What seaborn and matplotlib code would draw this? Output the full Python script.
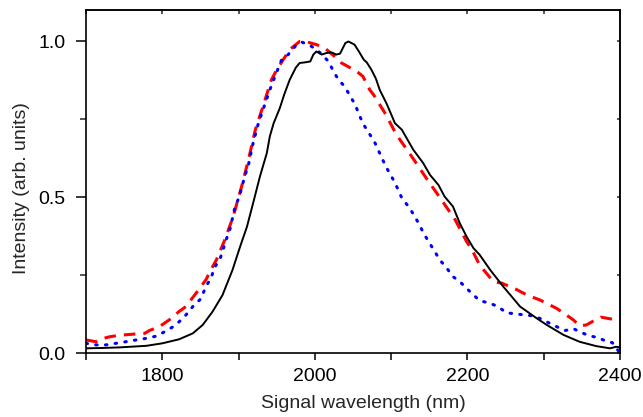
import numpy as np
import pandas as pd
import matplotlib
matplotlib.use("Agg")
import matplotlib.pyplot as plt
from matplotlib.ticker import MultipleLocator
import seaborn as sns

# Solid black spectrum
wl_black = [1700, 1720, 1744, 1779, 1800, 1822, 1840, 1853, 1866, 1879, 1892, 1902, 1911, 1919,
            1928, 1937, 1941, 1946, 1954, 1960, 1967, 1975, 1980, 1987, 1994, 1998, 2002, 2009,
            2015, 2022, 2028, 2033, 2040, 2044, 2052, 2059, 2064, 2068, 2074, 2080, 2085, 2094,
            2105, 2114, 2129, 2142, 2151, 2162, 2170, 2181, 2190, 2199, 2208, 2216, 2230, 2247,
            2269, 2291, 2304, 2326, 2347, 2369, 2387, 2395, 2400]
int_black = [0.015, 0.016, 0.018, 0.023, 0.031, 0.044, 0.063, 0.09, 0.133, 0.186, 0.266, 0.341,
             0.405, 0.48, 0.566, 0.641, 0.695, 0.737, 0.785, 0.83, 0.876, 0.915, 0.93, 0.932,
             0.935, 0.957, 0.967, 0.957, 0.962, 0.964, 0.957, 0.96, 0.994, 0.999, 0.989, 0.962,
             0.941, 0.932, 0.909, 0.88, 0.844, 0.80, 0.737, 0.716, 0.652, 0.609, 0.571, 0.539,
             0.502, 0.47, 0.416, 0.373, 0.336, 0.315, 0.266, 0.213, 0.149, 0.111, 0.09, 0.058,
             0.036, 0.022, 0.015, 0.02, 0.018]

# Dashed red spectrum
wl_red = [1700, 1713, 1720, 1731, 1744, 1765, 1777, 1783, 1796, 1809, 1822, 1831, 1844, 1857,
          1866, 1871, 1882, 1893, 1904, 1913, 1922, 1932, 1943, 1950, 1967, 1980, 1989, 2002,
          2013, 2026, 2035, 2055, 2063, 2072, 2077, 2092, 2107, 2127, 2146, 2166, 2184, 2199,
          2206, 2216, 2234, 2245, 2264, 2278, 2295, 2317, 2339, 2347, 2356, 2369, 2375, 2391, 2400]
int_red = [0.042, 0.036, 0.045, 0.052, 0.057, 0.061, 0.063, 0.072, 0.084, 0.106, 0.133, 0.149,
           0.191, 0.234, 0.277, 0.299, 0.363, 0.438, 0.534, 0.62, 0.716, 0.791, 0.876, 0.908,
           0.973, 0.999, 0.998, 0.989, 0.978, 0.951, 0.93, 0.903, 0.887, 0.844, 0.828, 0.769,
           0.70, 0.63, 0.561, 0.491, 0.427, 0.357, 0.331, 0.282, 0.229, 0.224, 0.204, 0.186,
           0.17, 0.143, 0.106, 0.087, 0.09, 0.108, 0.115, 0.108, 0.1]

# Dotted blue spectrum
wl_blue = [1700, 1713, 1726, 1739, 1752, 1766, 1779, 1792, 1803, 1814, 1822, 1831, 1840, 1851,
           1857, 1864, 1868, 1876, 1884, 1889, 1895, 1901, 1908, 1913, 1919, 1926, 1932, 1941,
           1946, 1956, 1965, 1974, 1983, 1994, 2005, 2018, 2024, 2031, 2039, 2046, 2053, 2058,
           2064, 2071, 2078, 2084, 2090, 2096, 2103, 2109, 2114, 2122, 2129, 2136, 2143, 2151,
           2164, 2173, 2181, 2190, 2199, 2208, 2216, 2230, 2240, 2251, 2265, 2275, 2286, 2297,
           2308, 2319, 2328, 2339, 2350, 2360, 2370, 2380, 2390, 2400]
int_blue = [0.031, 0.026, 0.026, 0.031, 0.036, 0.042, 0.047, 0.054, 0.068, 0.084, 0.1, 0.122,
            0.149, 0.175, 0.213, 0.24, 0.272, 0.304, 0.365, 0.4, 0.465, 0.502, 0.566, 0.604,
            0.673, 0.737, 0.78, 0.844, 0.876, 0.938, 0.957, 0.983, 0.997, 0.986, 0.967, 0.935,
            0.905, 0.876, 0.855, 0.825, 0.796, 0.764, 0.732, 0.705, 0.678, 0.646, 0.614, 0.585,
            0.555, 0.525, 0.497, 0.472, 0.446, 0.416, 0.382, 0.35, 0.298, 0.272, 0.245, 0.229,
            0.207, 0.186, 0.168, 0.159, 0.149, 0.129, 0.125, 0.122, 0.119, 0.109, 0.095, 0.082,
            0.072, 0.078, 0.065, 0.055, 0.05, 0.04, 0.033, 0.0]

sns.set_style("ticks")
plt.rcParams['font.family'] = ['Liberation Sans', 'DejaVu Sans']

fig = plt.figure(figsize=(6.43, 4.17), dpi=100)
ax = fig.add_axes([86/643, 64/417, 534/643, 343/417])

df_b = pd.DataFrame({"wl": wl_black, "I": int_black})
df_r = pd.DataFrame({"wl": wl_red, "I": int_red})
df_u = pd.DataFrame({"wl": wl_blue, "I": int_blue})

sns.lineplot(data=df_r, x="wl", y="I", ax=ax, color="#ff0000", lw=2.2,
             linestyle=(0, (3.8, 2.6)))
sns.lineplot(data=df_u, x="wl", y="I", ax=ax, color="#0000ff", lw=2.2,
             linestyle=(0, (0.5, 2.7)), dash_capstyle="round")
sns.lineplot(data=df_b, x="wl", y="I", ax=ax, color="black", lw=1.4)

ax.set_xlim(1700, 2400)
ax.set_ylim(0, 1.10)
ax.xaxis.set_major_locator(MultipleLocator(200))
ax.xaxis.set_minor_locator(MultipleLocator(100))
ax.yaxis.set_major_locator(MultipleLocator(0.5))
ax.yaxis.set_minor_locator(MultipleLocator(0.25))
ax.set_yticks([0.0, 0.5, 1.0])
ax.set_yticklabels(["0.0", "0.5", "1.0"])

for s in ax.spines.values():
    s.set_linewidth(1.2)
    s.set_color("black")

ax.tick_params(axis="x", which="both", direction="out", length=5, width=1.1, pad=5.5,
               labelsize=14, colors="black", top=False)
ax.tick_params(axis="y", which="major", direction="out", length=7, width=1.1, pad=8,
               labelsize=14, colors="black", right=False)
ax.tick_params(axis="y", which="minor", direction="out", length=4.5, width=1.1, right=False)

# inward ticks on top and right
axt = ax.secondary_xaxis("top")
axt.xaxis.set_major_locator(MultipleLocator(100))
axt.tick_params(direction="in", length=3, width=1.1, labeltop=False)
axr = ax.secondary_yaxis("right")
axr.yaxis.set_major_locator(MultipleLocator(0.25))
axr.tick_params(direction="in", length=2.5, width=1.1, labelright=False)
for a in (axt, axr):
    for s in a.spines.values():
        s.set_linewidth(1.2)

ax.set_xlabel("Signal wavelength (nm)", fontsize=14)
ax.set_ylabel("Intensity (arb. units)", fontsize=14)
ax.xaxis.set_label_coords(0.519, -0.122)
ax.yaxis.set_label_coords(-0.104, 0.481)

fig.savefig("out.png", dpi=100)
